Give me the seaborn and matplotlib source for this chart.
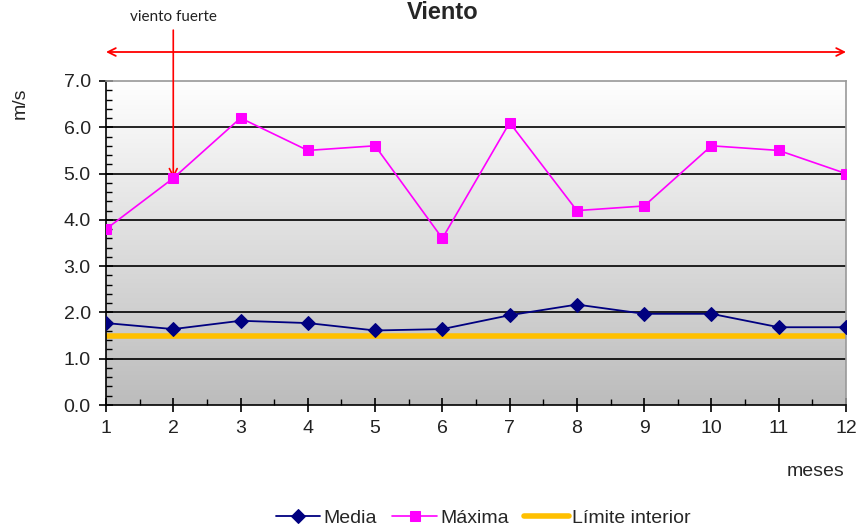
import numpy as np
import pandas as pd
import matplotlib
matplotlib.use("Agg")
import matplotlib.pyplot as plt
import seaborn as sns
from matplotlib.ticker import MultipleLocator
from matplotlib.colors import LinearSegmentedColormap

meses = [1, 2, 3, 4, 5, 6, 7, 8, 9, 10, 11, 12]
media = [1.77, 1.64, 1.82, 1.77, 1.61, 1.64, 1.94, 2.17, 1.97, 1.97, 1.68, 1.68]
maxima = [3.8, 4.9, 6.2, 5.5, 5.6, 3.6, 6.1, 4.2, 4.3, 5.6, 5.5, 5.0]
limite = [1.5] * 12

sns.set_style("white")
plt.rcParams['font.family'] = ['Liberation Sans', 'DejaVu Sans']

df = pd.DataFrame({"mes": meses, "Media": media, "Máxima": maxima, "Límite interior": limite})

fig = plt.figure(figsize=(8.6, 5.31), dpi=100)
ax = fig.add_axes([106/860, 1-405/531, 740/860, 324/531])

# gradient background: white at top, grey at bottom
grad = np.linspace(0, 1, 256).reshape(-1, 1)
cmap = LinearSegmentedColormap.from_list("g", ["#ffffff", "#bcbcbc"])
ax.imshow(grad, aspect="auto", cmap=cmap, extent=[1, 12, 0, 7], zorder=0, origin="upper")

for yv in range(1, 7):
    ax.axhline(yv, color="black", lw=1.2, zorder=1)

sns.lineplot(data=df, x="mes", y="Límite interior", ax=ax, color="#FFC000", lw=4, zorder=2,
             label="Límite interior", legend=False)
sns.lineplot(data=df, x="mes", y="Media", ax=ax, color="#000080", lw=1.3, marker="D",
             markersize=7, markeredgecolor="#000080", zorder=4, label="Media", legend=False)
sns.lineplot(data=df, x="mes", y="Máxima", ax=ax, color="#FF00FF", lw=1.2, marker="s",
             markersize=7, markeredgecolor="#FF00FF", zorder=4, label="Máxima", legend=False)

ax.set_xlim(1, 12)
ax.set_ylim(0, 7)
ax.set_xticks(meses)
ax.xaxis.set_minor_locator(MultipleLocator(0.5))
ax.set_yticks(np.arange(0, 7.01, 1.0))
ax.set_yticklabels([f"{v:.1f}" for v in np.arange(0, 7.01, 1.0)])
ax.yaxis.set_minor_locator(MultipleLocator(0.2))
ax.tick_params(axis="both", which="major", direction="inout", length=10, width=1.2, color="black",
               labelsize=14, labelcolor="#222222", left=True, bottom=True)
ax.tick_params(axis="y", which="major", pad=6)
ax.tick_params(axis="x", which="major", pad=6)
ax.tick_params(axis="both", which="minor", direction="in", length=4, width=1, color="black",
               left=True, bottom=True)
ax.set_xlabel("")
ax.set_ylabel("")

for s in ["left", "bottom"]:
    ax.spines[s].set_color("black")
    ax.spines[s].set_linewidth(1.2)
for s in ["top", "right"]:
    ax.spines[s].set_color("#999999")
    ax.spines[s].set_linewidth(1.2)

# y label and x label
fig.text(20/860, 1-103/531, "m/s", rotation=90, ha="center", va="center", fontsize=14)
fig.text(816/860, 1-471/531, "meses", ha="center", va="center", fontsize=14)

# title
fig.text(0.515, 0.999, "Viento", ha="center", va="top", fontsize=17, fontweight="bold")

# red double arrow
ax.annotate("", xy=(1, 1.0895), xycoords=("data", "axes fraction"),
            xytext=(12, 1.0895), textcoords=("data", "axes fraction"),
            arrowprops=dict(arrowstyle="<->", color="red", lw=1.3, mutation_scale=14,
                            shrinkA=0, shrinkB=0), annotation_clip=False)
# vertical arrow to point 2
ax.annotate("", xy=(2, maxima[1]), xycoords="data",
            xytext=(2, 1.157), textcoords=("data", "axes fraction"),
            arrowprops=dict(arrowstyle="->", color="red", lw=1.2, mutation_scale=14,
                            shrinkA=0, shrinkB=0), annotation_clip=False)
ax.text(2, 1.197, "viento fuerte", transform=ax.get_xaxis_transform(), ha="center",
        va="center", fontsize=11, family=["Lato", "DejaVu Sans"], color="#222222")

handles, labels = ax.get_legend_handles_labels()
order = [labels.index("Media"), labels.index("Máxima"), labels.index("Límite interior")]
fig.legend([handles[i] for i in order], [labels[i] for i in order], loc="center",
           bbox_to_anchor=(483/860, 1-518/531), ncol=3, frameon=False, fontsize=14,
           handlelength=2.3, columnspacing=0.8, handletextpad=0.15)

fig.savefig("out.png", dpi=100)
